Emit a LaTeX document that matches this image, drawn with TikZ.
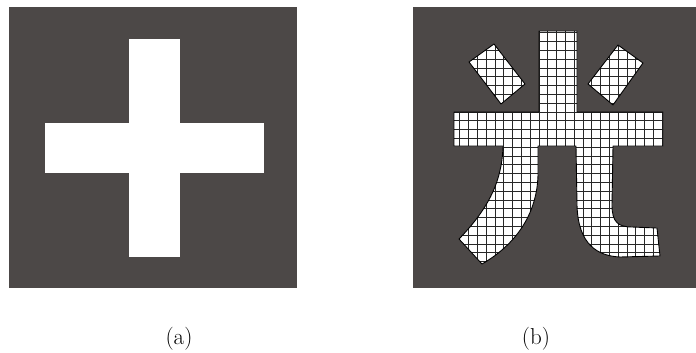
\documentclass[tikz,border=0pt]{standalone}
\usepackage{xcolor}
\usetikzlibrary{positioning,calc}
\definecolor{panelgray}{RGB}{76,72,71}
\definecolor{meshgray}{RGB}{40,40,40}

\begin{document}
\begin{tikzpicture}[x=1pt,y=-1pt,
	outline/.style={draw=black,line width=0.9pt,line join=round},
	mesh/.style={draw=meshgray,line width=0.8pt},
	caption/.style={font=\fontsize{23}{27}\selectfont,inner sep=0pt}]
	\useasboundingbox (0,0) rectangle (696,353);
	
	% cross
	\coordinate (PA) at (9,7);
	\coordinate (QA) at (297,288);
	\fill[panelgray] (PA) rectangle (QA);
	\fill[white] (129,39) rectangle (180,257);
	\fill[white] (45,123) rectangle (264,173);
	\node[caption] (la) at (179,339) {(a)};
	
	% character with mesh
	\coordinate (PB) at (413,7);
	\coordinate (QB) at (696,288);
	\fill[panelgray] (PB) rectangle (QB);
	
	\def\glyph{(539,31) -- (577,31) -- (577,112) -- (663,112) -- (663,146)
		-- (613,146) -- (612,205) .. controls (612,222) and (618,227) .. (632,227)
		-- (657,228) -- (660,256) -- (620,257)
		.. controls (598,256) and (578,245) .. (577,205) -- (576,146)
		-- (538,146) -- (538,175) .. controls (537,215) and (515,245) .. (482,264)
		-- (459,239) .. controls (485,212) and (502,185) .. (503,146)
		-- (454,146) -- (454,112) -- (539,112) -- cycle}
	\def\dotl{(469,62) -- (494,44) -- (525,84) -- (501,104) -- cycle}
	\def\dotr{(588,84) -- (618,45) -- (643,63) -- (613,105) -- cycle}
	
	\fill[white] \glyph;
	\fill[white] \dotl;
	\fill[white] \dotr;
	\begin{scope}
		\clip \glyph \dotl \dotr;
		\foreach \gx in {451,459.8,...,668}
			\draw[mesh] (\gx,28) -- (\gx,268);
		\foreach \gy in {32.8,41.6,...,268}
			\draw[mesh] (450,\gy) -- (668,\gy);
	\end{scope}
	\draw[outline] \glyph;
	\draw[outline] \dotl;
	\draw[outline] \dotr;
	\node[caption] (lb) at (536,339) {(b)};
\end{tikzpicture}
\end{document}
